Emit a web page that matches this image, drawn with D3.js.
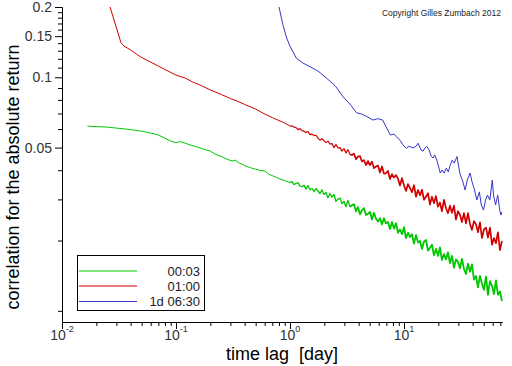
<!DOCTYPE html>
<html><head><meta charset="utf-8">
<script src="https://cdn.jsdelivr.net/npm/d3@7"></script>
<style>body{margin:0;background:#fff;} svg{display:block;font-family:"Liberation Sans",Arial,sans-serif;}</style>
</head><body>
<script>
// ---------- data (time lag in days, correlation) ----------
const seriesNames = ["00:03", "01:00", "1d 06:30"];
const seriesColors = ["#00c800", "#d00000", "#3535cc"];

const greenLag = [0.0167,0.02,0.025,0.03,0.04,0.05,0.06,0.07,0.08,0.09,0.1,0.11,0.13,0.15,0.18,0.2,0.22,0.25,0.28,0.31,0.33,0.36,0.4,0.45,0.5,0.55,0.6,0.65,0.7,0.75,0.8,0.9];
const greenVal = [0.0618,0.0615,0.0612,0.0606,0.0597,0.0588,0.0577,0.0566,0.0549,0.0533,0.0525,0.0531,0.0515,0.0505,0.0490,0.0483,0.0469,0.0458,0.0446,0.0438,0.0442,0.0429,0.0419,0.0410,0.0404,0.0399,0.0397,0.0385,0.0379,0.0374,0.0368,0.0361];

const redLag = [0.0264,0.0329,0.035,0.04,0.045,0.05,0.06,0.07,0.08,0.1,0.12,0.14,0.17,0.2,0.25,0.3,0.35,0.4,0.5,0.6,0.7,0.8,0.9];
const redVal = [0.200,0.1407,0.1361,0.1309,0.1258,0.1215,0.1162,0.1117,0.1080,0.1022,0.0993,0.0955,0.0918,0.0882,0.0844,0.0811,0.0788,0.0765,0.0731,0.0696,0.0672,0.0653,0.0637];

// dense lag grid (1 to 72 days) shared by the two noisy series
const lagGrid = [1.000,1.041,1.084,1.129,1.175,1.224,1.274,1.327,1.381,1.438,1.497,1.559,1.623,1.690,1.759,1.832,1.907,1.986,2.067,2.152,2.241,2.335,2.431,2.531,2.635,2.744,2.856,2.974,3.096,3.224,3.357,3.497,3.641,3.791,3.947,4.110,4.279,4.455,4.638,4.829,5.028,5.237,5.453,5.677,5.911,6.154,6.408,6.671,6.946,7.232,7.530,7.845,8.168,8.505,8.855,9.220,9.600,9.995,10.41,10.84,11.29,11.75,12.24,12.74,13.27,13.81,14.38,14.97,15.59,16.23,16.90,17.59,18.32,19.07,19.86,20.67,21.52,22.41,23.35,24.31,25.31,26.35,27.44,28.56,29.74,30.96,32.24,33.57,34.97,36.41,37.91,39.47,41.10,42.79,44.55,46.38,48.29,50.28,52.37,54.53,56.77,59.11,61.54,64.08,66.71,69.46,72.32];

const greenNoisy = [0.0354,0.0358,0.0347,0.0351,0.0354,0.0342,0.0340,0.0345,0.0332,0.0344,
0.0330,0.0334,0.0324,0.0334,0.0326,0.0318,0.0330,0.0315,0.0321,0.0305,
0.0318,0.0307,0.0315,0.0294,0.0301,0.0304,0.0288,0.0294,0.0279,0.0297,
0.0279,0.0283,0.0286,0.0267,0.0278,0.0259,0.0270,0.0275,0.0257,0.0260,
0.0265,0.0246,0.0263,0.0248,0.0241,0.0249,0.0234,0.0249,0.0237,0.0240,
0.0224,0.0240,0.0225,0.0237,0.0216,0.0223,0.0213,0.0228,0.0205,0.0216,
0.0207,0.0213,0.0194,0.0211,0.0196,0.0199,0.0184,0.0198,0.0201,0.0181,
0.0186,0.0192,0.0173,0.0184,0.0172,0.0187,0.0165,0.0175,0.0166,0.0178,
0.0160,0.0172,0.0153,0.0166,0.0162,0.0152,0.0167,0.0151,0.0144,0.0159,
0.0147,0.0158,0.0136,0.0141,0.0126,0.0141,0.0131,0.0123,0.0140,0.0117,
0.0134,0.0128,0.0118,0.0135,0.0117,0.0121,0.0110];

const redNoisy = [0.0618,0.0620,0.0612,0.0609,0.0597,0.0603,0.0591,0.0588,0.0580,0.0586,
0.0568,0.0571,0.0563,0.0566,0.0549,0.0538,0.0546,0.0536,0.0525,0.0533,
0.0518,0.0520,0.0500,0.0515,0.0498,0.0500,0.0483,0.0495,0.0474,0.0490,
0.0467,0.0465,0.0471,0.0446,0.0458,0.0460,0.0436,0.0442,0.0421,0.0438,
0.0421,0.0435,0.0408,0.0415,0.0419,0.0391,0.0415,0.0387,0.0388,0.0397,
0.0367,0.0385,0.0372,0.0381,0.0368,0.0344,0.0370,0.0345,0.0326,0.0349,
0.0335,0.0322,0.0345,0.0308,0.0329,0.0313,0.0330,0.0299,0.0308,0.0319,
0.0285,0.0308,0.0289,0.0310,0.0279,0.0291,0.0267,0.0299,0.0275,0.0262,
0.0282,0.0263,0.0282,0.0246,0.0267,0.0258,0.0240,0.0262,0.0237,0.0262,
0.0236,0.0222,0.0242,0.0235,0.0217,0.0239,0.0205,0.0223,0.0227,0.0206,
0.0227,0.0192,0.0205,0.0195,0.0217,0.0182,0.0199];

const blueLag = [0.801,0.869,0.936,1.00,1.14,1.30,1.50,1.76,2.10,2.50,2.92,3.36,3.83,4.26,4.80,5.34,5.90,6.50,6.90,7.60,8.20,8.60,9.20,9.80,10.5,11.1,12.0,12.8,13.3,14.1,14.7,15.3,15.8,16.6,17.3,18.0,18.6,19.4,20.3,20.8,21.6,22.5,23.5,24.5,25.4,26.5,27.6,29.2,30.0,31.2,32.5,34.4,35.9,38.0,39.6,41.2,43.6,45.8,47.7,49.8,51.9,54.0,56.6,59.5,61.0,63.6,66.4,69.2,70.7,72.0];
const blueVal = [0.200,0.167,0.147,0.136,0.1205,0.1151,0.1109,0.1064,0.0990,0.0918,0.0825,0.0768,0.0705,0.0696,0.0676,0.0656,0.0665,0.0656,0.0619,0.0566,0.0571,0.0556,0.0538,0.0513,0.0496,0.0507,0.0498,0.0507,0.0522,0.0488,0.0483,0.0498,0.0507,0.0488,0.0460,0.0451,0.0465,0.0442,0.0408,0.0389,0.0401,0.0389,0.0408,0.0393,0.0420,0.0442,0.0429,0.0458,0.0420,0.0381,0.0363,0.0329,0.0363,0.0389,0.0355,0.0335,0.0298,0.0323,0.0284,0.0270,0.0298,0.0313,0.0298,0.0363,0.0313,0.0284,0.0313,0.0270,0.0257,0.0265];

const yMajorTicks = [0.05, 0.1, 0.15, 0.2];
const xMajorTicks = [0.01, 0.1, 1, 10];
const xTickExp = ["-2", "-1", "0", "1"];

// ---------- chart ----------
const W = 512, H = 366;
const svg = d3.select("body").append("svg").attr("width", W).attr("height", H);
svg.append("rect").attr("width", W).attr("height", H).attr("fill", "#fff");

const x = d3.scaleLog().domain([0.01, 72.4]).range([62, 502]);
const y = d3.scaleLog().domain([0.009, 0.2]).range([321.5, 7]);

const zip = (a, b) => a.map((v, i) => [v, b[i]]);
const SPLIT = 30; // index in lagGrid where the band becomes dense
// smooth parts (thin) and dense noisy parts (drawn a little heavier so the band fills in)
const paths = [
  { pts: zip(greenLag.concat([lagGrid[0]]), greenVal.concat([greenNoisy[0]])), c: 0, w: 1 },
  { pts: zip(lagGrid.slice(0, SPLIT + 1), greenNoisy.slice(0, SPLIT + 1)), c: 0, w: 1.3 },
  { pts: zip(lagGrid.slice(SPLIT), greenNoisy.slice(SPLIT)), c: 0, w: 1.8 },
  { pts: zip(redLag.concat([lagGrid[0]]), redVal.concat([redNoisy[0]])), c: 1, w: 1 },
  { pts: zip(lagGrid.slice(0, SPLIT + 1), redNoisy.slice(0, SPLIT + 1)), c: 1, w: 1.2 },
  { pts: zip(lagGrid.slice(SPLIT), redNoisy.slice(SPLIT)), c: 1, w: 1.7 },
  { pts: zip(blueLag, blueVal), c: 2, w: 1 }
];

svg.append("clipPath").attr("id", "plotclip").append("rect")
  .attr("x", 62).attr("y", 6).attr("width", 441).attr("height", 316);

const line = d3.line().x(d => x(d[0])).y(d => y(d[1]));
svg.append("g").attr("clip-path", "url(#plotclip)")
  .selectAll("path").data(paths).join("path")
  .attr("d", d => line(d.pts)).attr("fill", "none")
  .attr("stroke", d => seriesColors[d.c]).attr("stroke-width", d => d.w)
  .attr("stroke-linejoin", "round");

// y axis
const yMinor = d3.range(1, 21).map(i => i / 100).filter(v => !yMajorTicks.includes(v));
svg.append("g").attr("transform", "translate(62,0)")
  .call(d3.axisLeft(y).tickValues(yMinor).tickSize(4).tickSizeOuter(0).tickFormat(""));
const gy = svg.append("g").attr("transform", "translate(62,0)")
  .call(d3.axisLeft(y).tickValues(yMajorTicks).tickSize(7).tickSizeOuter(0).tickPadding(3)
    .tickFormat(d => String(d)));
gy.selectAll("text").attr("font-size", 14).attr("fill", "#333")
  .attr("font-family", "'Liberation Sans', Arial, sans-serif");

// x axis
const xMinor = [];
[0.01, 0.1, 1, 10].forEach(dec => { for (let m = 2; m <= 9; m++) { const v = dec * m; if (v <= 72.4) xMinor.push(v); } });
svg.append("g").attr("transform", "translate(0,322)")
  .call(d3.axisBottom(x).tickValues(xMinor).tickSize(4).tickSizeOuter(0).tickFormat(""));
svg.append("g").attr("transform", "translate(0,322)")
  .call(d3.axisBottom(x).tickValues(xMajorTicks).tickSize(7).tickSizeOuter(0).tickFormat(""));
svg.selectAll(".domain, .tick line").attr("stroke", "#000");

const xl = svg.append("g").selectAll("text").data(xMajorTicks).join("text")
  .attr("x", d => x(d)).attr("y", 340).attr("text-anchor", "middle")
  .attr("fill", "#333").attr("font-size", 14);
xl.append("tspan").text("10");
xl.append("tspan").attr("dy", -8).attr("font-size", 9).text((d, i) => xTickExp[i]);

// axis titles
svg.append("text").attr("x", 282).attr("y", 360).attr("text-anchor", "middle")
  .attr("font-size", 18).attr("fill", "#000")
  .style("white-space", "pre").text("time lag  [day]");
svg.append("text").attr("transform", "translate(19,177) rotate(-90)")
  .attr("text-anchor", "middle").attr("font-size", 18).attr("fill", "#000")
  .text("correlation for the absolute return");

// copyright
svg.append("text").attr("x", 501).attr("y", 16).attr("text-anchor", "end")
  .attr("font-size", 8.5).attr("fill", "#222").text("Copyright Gilles Zumbach 2012");

// legend
const lg = svg.append("g");
lg.append("rect").attr("x", 77.5).attr("y", 255.5).attr("width", 127).attr("height", 55)
  .attr("fill", "#fff").attr("stroke", "#000").attr("stroke-width", 1);
const ly = [271, 286, 301.5];
seriesNames.forEach((name, i) => {
  lg.append("line").attr("x1", 79).attr("x2", 137).attr("y1", ly[i]).attr("y2", ly[i])
    .attr("stroke", seriesColors[i]).attr("stroke-width", 1);
  lg.append("text").attr("x", 200).attr("y", ly[i] + 4.5).attr("text-anchor", "end")
    .attr("font-size", 13).attr("fill", "#222").text(name);
});
</script>
</body></html>
